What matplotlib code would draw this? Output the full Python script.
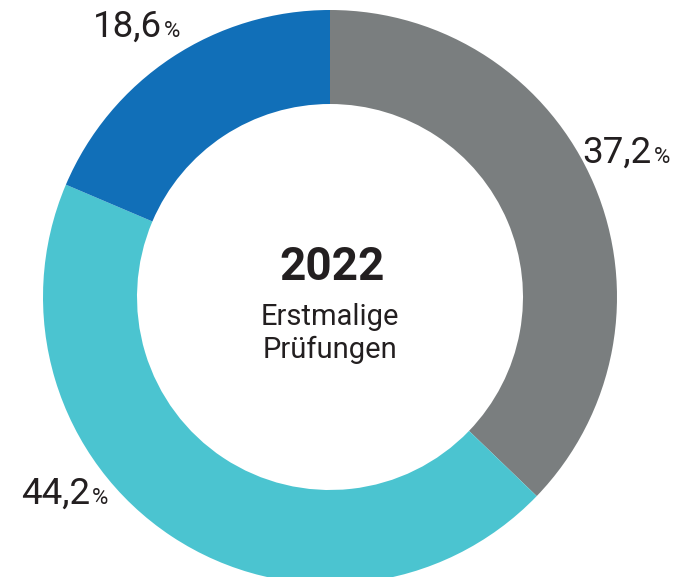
import matplotlib.pyplot as plt

# share of first-time examinations 2022
shares = [37.2, 44.2, 18.6]
labels = ['37,2', '44,2', '18,6']
colors = ['#7a7e7f', '#4bc4d0', '#116fb8']
title = '2022'
subtitle = ['Erstmalige', 'Prüfungen']

W, H = 686, 577
fig = plt.figure(figsize=(W / 100, H / 100), dpi=100)
ax = fig.add_axes([0, 0, 1, 1])

cx, cy = 330, H - 297
radius = 287
ax.pie(shares, colors=colors, startangle=90, counterclock=False,
       center=(cx, cy), radius=radius, frame=True,
       wedgeprops=dict(width=94, edgecolor='none'))
ax.set_xlim(0, W)
ax.set_ylim(0, H)
ax.set_aspect('equal')
ax.axis('off')

txt = '#231f20'
font = 'Roboto'
# label anchor: (x where number ends, baseline y in pixels from top)
label_pos = [(652, 163), (90, 504), (162, 37)]
for lab, (x, y) in zip(labels, label_pos):
    ax.text(x, H - y, lab, ha='right', va='baseline', fontsize=26.5,
            color=txt, family=font, fontweight=350)
    ax.text(x + 2, H - y, '%', ha='left', va='baseline', fontsize=16,
            color=txt, family=font, fontweight=350)

ax.text(cx + 2, H - 280, title, ha='center', va='baseline', fontsize=33,
        color=txt, family=font, fontweight='bold')
for line, y in zip(subtitle, [325, 358]):
    ax.text(cx, H - y, line, ha='center', va='baseline', fontsize=21,
            color=txt, family=font, fontweight=350)

fig.savefig('out.png', dpi=100)
